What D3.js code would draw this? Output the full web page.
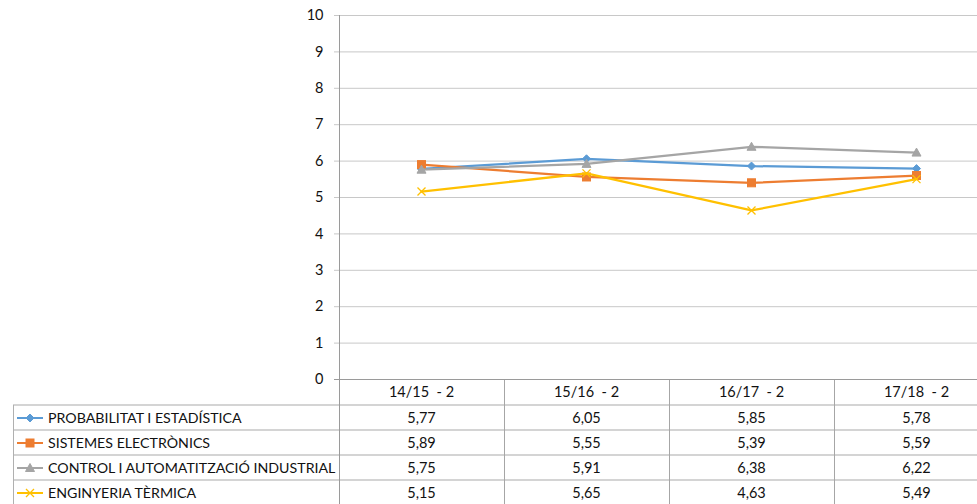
<!DOCTYPE html>
<html><head><meta charset="utf-8">
<script src="https://cdn.jsdelivr.net/npm/d3@7"></script>
<style>
html,body{margin:0;padding:0;background:#fff;}
svg{display:block;}
text{font-family:Lato,"Open Sans",sans-serif;fill:#111;}
</style></head><body>
<svg id="c" width="977" height="504"></svg>
<script>
const categories = ["14/15  - 2", "15/16  - 2", "16/17  - 2", "17/18  - 2"];
const seriesNames = ["PROBABILITAT I ESTADÍSTICA", "SISTEMES ELECTRÒNICS", "CONTROL I AUTOMATITZACIÓ INDUSTRIAL", "ENGINYERIA TÈRMICA"];
const probabilitat = [5.77, 6.05, 5.85, 5.78];
const sistemes = [5.89, 5.55, 5.39, 5.59];
const control = [5.75, 5.91, 6.38, 6.22];
const enginyeria = [5.15, 5.65, 4.63, 5.49];
const yTicks = [0,1,2,3,4,5,6,7,8,9,10];
const colors = ["#5B9BD5", "#ED7D31", "#A5A5A5", "#FFC000"];
const markers = ["diamond", "square", "triangle", "x"];

const series = seriesNames.map((n,i)=>({name:n, values:[probabilitat,sistemes,control,enginyeria][i], color:colors[i], marker:markers[i]}));

const svg = d3.select("#c");
const pLeft = 339, pRight = 999, pTop = 15, pBottom = 379;
const x = d3.scaleBand().domain(categories).range([pLeft,pRight]).padding(0);
const y = d3.scaleLinear().domain([0,10]).range([pBottom,pTop]);
const cx = c => x(c) + x.bandwidth()/2;

// gridlines
svg.append("g").selectAll("line").data(yTicks.filter(t=>t>0)).join("line")
  .attr("x1", pLeft-5).attr("x2", pRight).attr("y1", d=>y(d)+0.5).attr("y2", d=>y(d)+0.5)
  .attr("stroke","#c8c8c8").attr("stroke-width",1);

// y axis
const ya = svg.append("g").attr("transform",`translate(${pLeft+0.5},0)`)
  .call(d3.axisLeft(y).tickValues(yTicks).tickSize(0).tickPadding(16).tickFormat(d3.format("d")));
ya.select(".domain").remove();
ya.selectAll("text").attr("font-size","14.5px").attr("font-family","Lato,sans-serif").attr("fill","#111");

// Table geometry
const rowH = 25;
const headerBottom = pBottom + 26;
const tableLeft = 13;
const tableBottom = headerBottom + rowH*4;

// row separators
const rowLines = [0,1,2,3,4].map(i=>headerBottom + i*rowH);
svg.append("g").selectAll("line").data(rowLines).join("line")
  .attr("x1", tableLeft).attr("x2", pRight).attr("y1", d=>d).attr("y2", d=>d)
  .attr("stroke","#d4d4d4").attr("stroke-width",2);
// left border
svg.append("line").attr("x1",tableLeft+0.5).attr("x2",tableLeft+0.5).attr("y1",headerBottom).attr("y2",tableBottom)
  .attr("stroke","#b0b0b0").attr("stroke-width",1);
// column lines
svg.append("g").selectAll("line").data(categories.slice(1)).join("line")
  .attr("x1", d=>x(d)+0.5).attr("x2", d=>x(d)+0.5).attr("y1", pBottom).attr("y2", tableBottom)
  .attr("stroke","#a6a6a6").attr("stroke-width",1);
// y axis line
svg.append("line").attr("x1",pLeft+0.5).attr("x2",pLeft+0.5).attr("y1",pTop).attr("y2",tableBottom)
  .attr("stroke","#9a9a9a").attr("stroke-width",1);
// zero axis
svg.append("line").attr("x1",pLeft-5).attr("x2",pRight).attr("y1",pBottom+0.5).attr("y2",pBottom+0.5)
  .attr("stroke","#9a9a9a").attr("stroke-width",1);

// header labels
svg.append("g").selectAll("text").data(categories).join("text")
  .attr("x", d=>cx(d)).attr("y", pBottom+13).attr("dy","0.35em")
  .attr("text-anchor","middle").attr("font-size","14.5px").style("white-space","pre")
  .text(d=>d);

function drawMarker(g, type, color, px, py){
  if(type==="diamond"){
    g.append("path").attr("d",`M${px},${py-4}L${px+4},${py}L${px},${py+4}L${px-4},${py}Z`).attr("fill",color).attr("stroke",color).attr("stroke-width",1);
  } else if(type==="square"){
    g.append("rect").attr("x",px-4).attr("y",py-4).attr("width",8).attr("height",8).attr("fill",color).attr("stroke",color).attr("stroke-width",1);
  } else if(type==="triangle"){
    g.append("path").attr("d",`M${px},${py-4.5}L${px+4.5},${py+3.5}L${px-4.5},${py+3.5}Z`).attr("fill",color).attr("stroke",color).attr("stroke-width",1);
  } else {
    g.append("path").attr("d",`M${px-4},${py-4}L${px+4},${py+4}M${px-4},${py+4}L${px+4},${py-4}`).attr("stroke",color).attr("stroke-width",1.3).attr("fill","none");
  }
}

// series lines
const line = d3.line().x((d,i)=>cx(categories[i])).y(d=>y(d));
series.forEach(s=>{
  const g = svg.append("g");
  g.append("path").attr("d", line(s.values)).attr("fill","none").attr("stroke",s.color)
    .attr("stroke-width",2.25).attr("stroke-linejoin","round").attr("stroke-linecap","round");
  s.values.forEach((v,i)=>drawMarker(g, s.marker, s.color, cx(categories[i]), y(v)));
});

// table body
const fmt = v => d3.format(".2f")(v).replace(".", ",");
series.forEach((s,r)=>{
  const yc = headerBottom + r*rowH + rowH/2 + 0.5;
  const g = svg.append("g");
  g.append("line").attr("x1",17).attr("x2",43).attr("y1",yc).attr("y2",yc).attr("stroke",s.color).attr("stroke-width",2);
  drawMarker(g, s.marker, s.color, 30, yc);
  g.append("text").attr("x",48).attr("y",yc).attr("dy","0.35em").attr("font-size","14.2px").text(s.name);
  s.values.forEach((v,i)=>{
    g.append("text").attr("x",cx(categories[i])).attr("y",yc).attr("dy","0.35em")
      .attr("text-anchor","middle").attr("font-size","14.5px").text(fmt(v));
  });
});
</script></body></html>
